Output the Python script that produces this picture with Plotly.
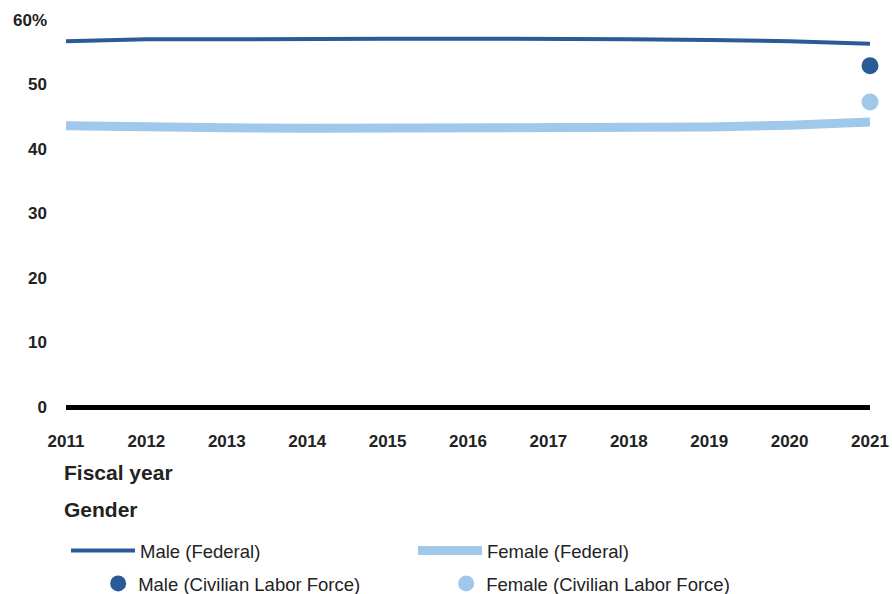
import plotly.graph_objects as go

YEARS = list(range(2011, 2022))
MALE_FEDERAL = [56.7, 57.0, 57.0, 57.1, 57.1, 57.1, 57.1, 57.0, 56.9, 56.7, 56.3]
FEMALE_FEDERAL = [43.6, 43.3, 43.3, 43.2, 43.2, 43.2, 43.2, 43.3, 43.4, 43.7, 44.2]
CLF_YEAR = [2021]
MALE_CLF = [52.9]
FEMALE_CLF = [47.3]
Y_TICKS = [0, 10, 20, 30, 40, 50, 60]
Y_TICK_TEXT = ["0", "10", "20", "30", "40", "50", "60%"]

DARK_BLUE = "#2a5a97"
LIGHT_BLUE = "#9fc8ea"
FONT = "Liberation Sans, Arial, sans-serif"
INK = "#222"

fig = go.Figure()
fig.add_trace(go.Scatter(
    x=YEARS, y=MALE_FEDERAL, name="Male (Federal)", mode="lines",
    line=dict(color=DARK_BLUE, width=4), legend="legend",
))
fig.add_trace(go.Scatter(
    x=YEARS, y=FEMALE_FEDERAL, name="Female (Federal)", mode="lines",
    line=dict(color=LIGHT_BLUE, width=9), legend="legend",
))
fig.add_trace(go.Scatter(
    x=CLF_YEAR, y=MALE_CLF, name="Male (Civilian Labor Force)", mode="markers",
    marker=dict(color=DARK_BLUE, size=17), legend="legend2", cliponaxis=False,
))
fig.add_trace(go.Scatter(
    x=CLF_YEAR, y=FEMALE_CLF, name="Female (Civilian Labor Force)", mode="markers",
    marker=dict(color=LIGHT_BLUE, size=17), legend="legend2", cliponaxis=False,
))

title_font = dict(family=FONT, size=21, color=INK, weight="bold")
fig.add_annotation(
    text="Fiscal year", xref="paper", yref="paper", x=0, y=-0.168,
    xanchor="left", yanchor="middle", xshift=-4, showarrow=False, font=title_font,
)
fig.add_annotation(
    text="Gender", xref="paper", yref="paper", x=0, y=-0.266,
    xanchor="left", yanchor="middle", xshift=-4, showarrow=False, font=title_font,
)

fig.update_layout(
    width=892, height=594,
    margin=dict(l=66, r=22, t=20, b=187, autoexpand=False),
    plot_bgcolor="white", paper_bgcolor="white",
    font=dict(family=FONT, size=17, color=INK),
    legend=dict(
        orientation="h", x=0, xanchor="left",
        yref="container", y=0.0724, yanchor="middle",
        entrywidth=268, itemwidth=64, font=dict(size=18.5),
    ),
    legend2=dict(
        orientation="h", x=0.04, xanchor="left",
        yref="container", y=0.017, yanchor="middle",
        entrywidth=303, itemwidth=30, font=dict(size=18.5),
    ),
)
fig.update_xaxes(
    range=[2011, 2021], tickvals=YEARS, showgrid=False, showline=False,
    ticklabelstandoff=22,
    tickfont=dict(family=FONT, size=17, color=INK, weight="bold"),
)
fig.update_yaxes(
    range=[0, 60], tickvals=Y_TICKS, ticktext=Y_TICK_TEXT, showgrid=False,
    zeroline=True, zerolinecolor="black", zerolinewidth=5, ticklabelstandoff=18,
    tickfont=dict(family=FONT, size=17, color=INK, weight="bold"),
)

fig.write_html(
    "out.html",
    config={"displayModeBar": False},
    post_script="document.body.style.margin = '0';",
)
